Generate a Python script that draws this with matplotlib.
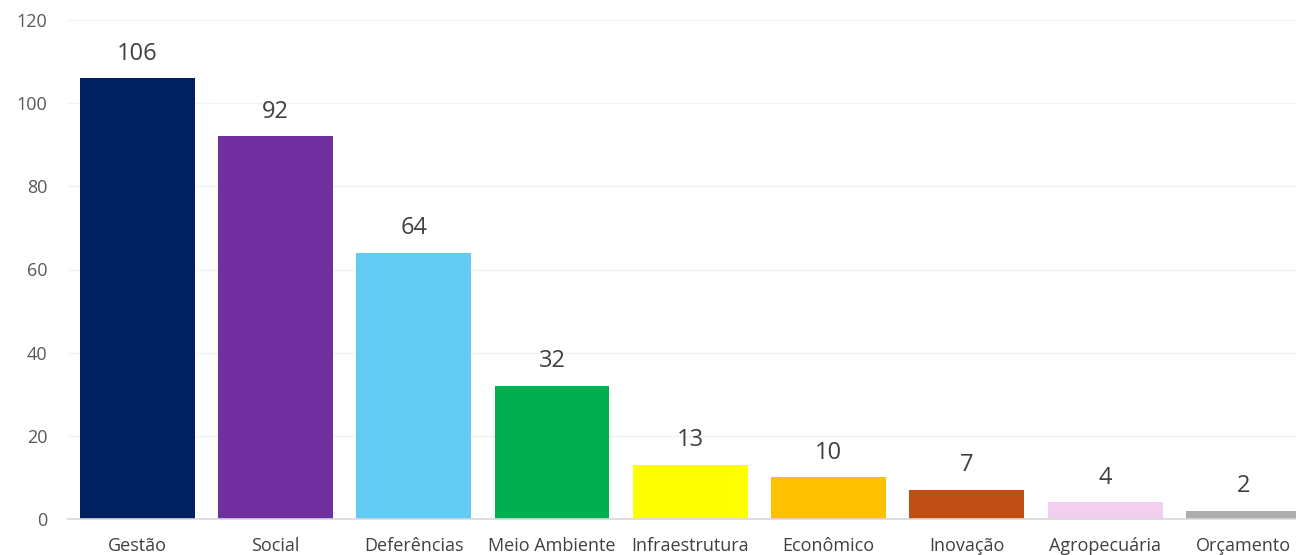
import matplotlib
matplotlib.use("Agg")
from matplotlib import pyplot as plt

# data
categorias = ["Gestão", "Social", "Deferências", "Meio Ambiente", "Infraestrutura",
              "Econômico", "Inovação", "Agropecuária", "Orçamento"]
valores = [106, 92, 64, 32, 13, 10, 7, 4, 2]
cores = ["#002060", "#7030A0", "#61CBF3", "#00B050", "#FFFF00",
         "#FFC000", "#C04F15", "#F2CEEF", "#ADADAD"]

plt.rcParams['font.family'] = ['Open Sans', 'DejaVu Sans']

fig = plt.figure(figsize=(12.96, 5.55), dpi=100)
ax = fig.add_axes([68/1296, 1-519/555, (1296-68)/1296, (519-20)/555])

x = range(len(categorias))
bars = ax.bar(x, valores, width=0.83, color=cores, zorder=3)

for xi, v in zip(x, valores):
    ax.annotate(str(v), xy=(xi, v), xytext=(0, 9), textcoords='offset points',
                ha='center', va='bottom', fontsize=17, color='#404040')

ax.set_xlim(-0.5, 8.38)
ax.set_ylim(0, 120)
ax.set_yticks(range(0, 121, 20))
ax.set_xticks(list(x))
ax.set_xticklabels(categorias, fontsize=13, color='#404040')
ax.tick_params(axis='y', labelsize=13, labelcolor='#595959', length=0, pad=15)
ax.tick_params(axis='x', length=0, pad=13)
ax.grid(axis='y', color='#F2F2F2', linewidth=1, zorder=0)
for s in ['top', 'right', 'left']:
    ax.spines[s].set_visible(False)
ax.spines['bottom'].set_color('#D9D9D9')
ax.spines['bottom'].set_linewidth(1.2)
ax.spines['bottom'].set_zorder(4)

fig.savefig("out.png", dpi=100)
